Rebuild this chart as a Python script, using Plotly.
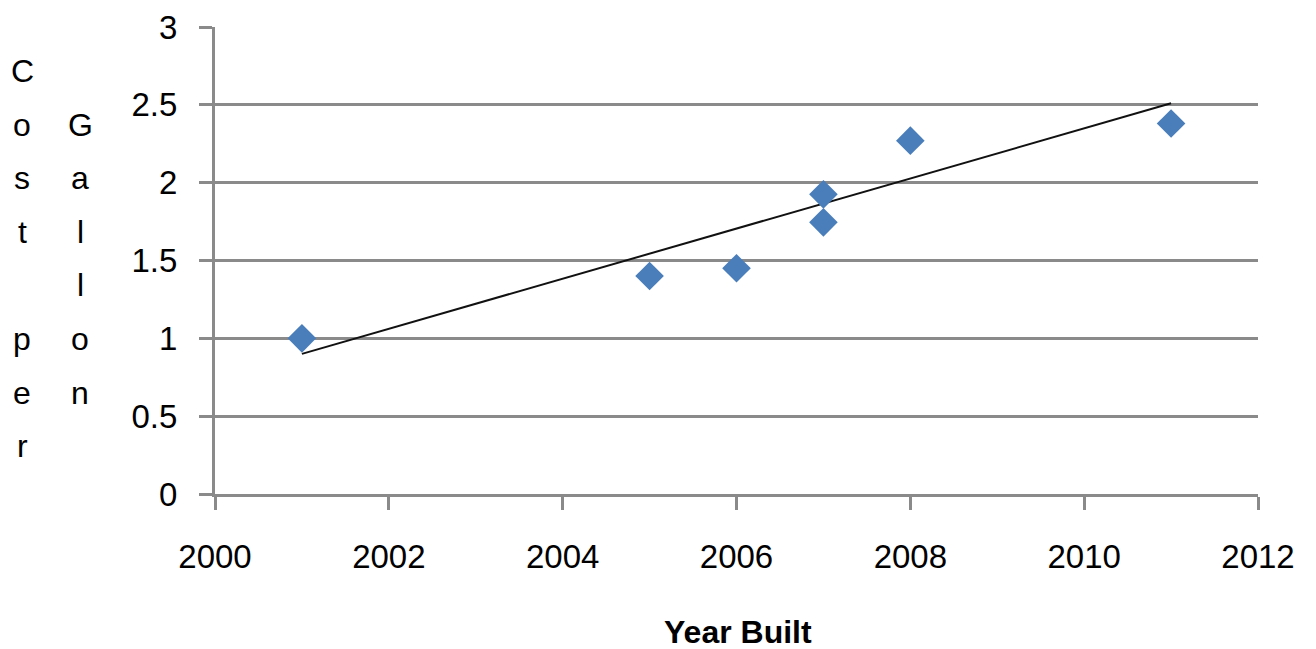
import plotly.graph_objects as go

# ---- data ----
years = [2001, 2005, 2006, 2007, 2007, 2008, 2011]
cost_per_gallon = [1.0, 1.40, 1.45, 1.925, 1.745, 2.27, 2.38]
trend_years = [2001, 2011]
trend_values = [0.90, 2.51]
x_ticks = [2000, 2002, 2004, 2006, 2008, 2010, 2012]
y_ticks = [0, 0.5, 1, 1.5, 2, 2.5, 3]
x_title = "Year Built"
y_title_col1 = ["C", "o", "s", "t", "", "p", "e", "r"]
y_title_col2 = ["", "G", "a", "l", "l", "o", "n"]

W, H = 1316, 649
ML, MR, MT, MB = 215, 58, 27, 155
PW, PH = W - ML - MR, H - MT - MB
FONT = "Liberation Sans"
FS = 33
GRID = "#8a8a8a"

fig = go.Figure()
fig.add_trace(go.Scatter(
    x=trend_years, y=trend_values, mode="lines",
    line=dict(color="#111111", width=2), hoverinfo="skip", showlegend=False))
fig.add_trace(go.Scatter(
    x=years, y=cost_per_gallon, mode="markers",
    marker=dict(symbol="diamond", size=22, color="#4a7ebb", line=dict(width=0)),
    showlegend=False))


def px_to_paper_x(px):
    return (px - ML) / PW


def px_to_paper_y(py):
    return (MT + PH - py) / PH


annotations = []
row0, row_h = 83, 53.6
for col_x, letters in ((22, y_title_col1), (80, y_title_col2)):
    for i, ch in enumerate(letters):
        if not ch:
            continue
        base = row0 + row_h * i
        annotations.append(dict(
            text=ch, xref="paper", yref="paper",
            x=px_to_paper_x(col_x), y=px_to_paper_y(base + 8),
            xanchor="center", yanchor="bottom", showarrow=False,
            font=dict(family=FONT, size=FS - 1, color="#000000")))

# x-axis title
annotations.append(dict(
    text=f"<b>{x_title}</b>", xref="paper", yref="paper",
    x=px_to_paper_x(738), y=px_to_paper_y(644 + 8),
    xanchor="center", yanchor="bottom", showarrow=False,
    font=dict(family=FONT, size=FS - 1, color="#000000")))

fig.update_layout(
    width=W, height=H,
    margin=dict(l=ML, r=MR, t=MT, b=MB, pad=0, autoexpand=False),
    paper_bgcolor="white", plot_bgcolor="white",
    font=dict(family=FONT, size=FS, color="#000000"),
    annotations=annotations,
    xaxis=dict(
        range=[2000, 2012], tickvals=x_ticks, ticktext=[str(v) for v in x_ticks],
        showgrid=False, zeroline=False, automargin=False,
        showline=True, linecolor=GRID, linewidth=3,
        ticks="outside", ticklen=13, tickwidth=3, tickcolor=GRID,
        ticklabelstandoff=18,
    ),
    yaxis=dict(
        range=[0, 3], tickvals=y_ticks, ticktext=[f"{v:g}" for v in y_ticks],
        showgrid=True, gridcolor=GRID, gridwidth=3, zeroline=False, automargin=False,
        showline=True, linecolor=GRID, linewidth=3,
        ticks="outside", ticklen=13, tickwidth=3, tickcolor=GRID,
        ticklabelstandoff=15,
    ),
)

fig.write_html("out.html")
